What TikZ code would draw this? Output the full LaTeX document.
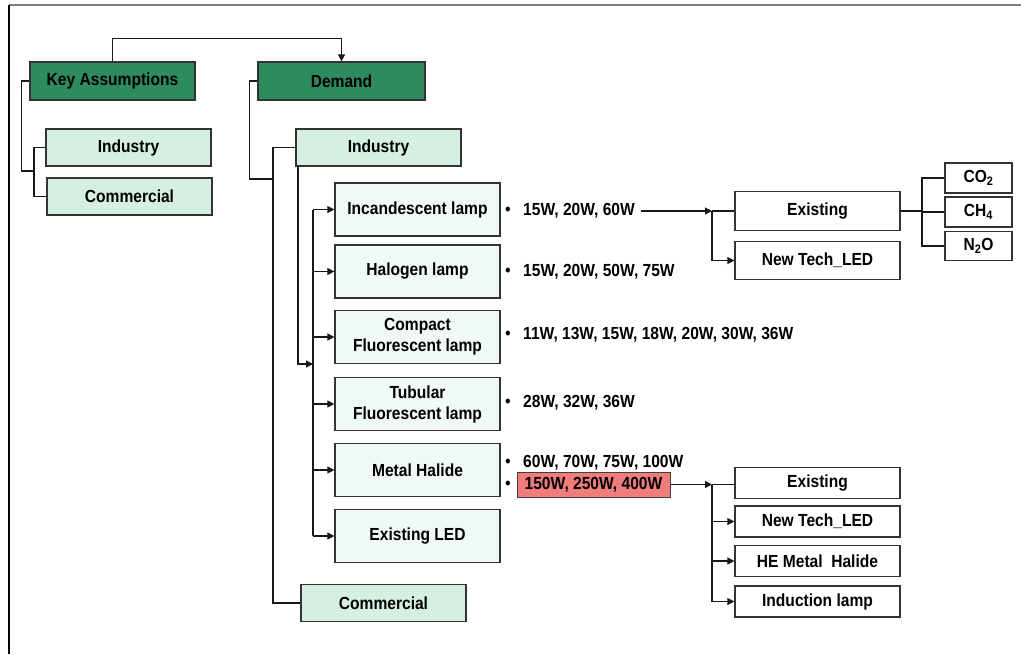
\documentclass[tikz,border=0pt]{standalone}
\usepackage{fontspec}
\setmainfont{Liberation Sans}[FakeStretch=0.89]
\usetikzlibrary{arrows.meta}

\definecolor{keygreen}{RGB}{46,139,94}
\definecolor{mint}{RGB}{213,240,227}
\definecolor{pale}{RGB}{240,249,245}
\definecolor{hot}{RGB}{240,124,124}

\tikzset{
  every node/.style={font=\fontsize{17.5}{21}\selectfont\bfseries, inner sep=0pt},
  box/.style={draw=black!80, line width=1.2pt, minimum width=165pt, align=center},
  head/.style={box, fill=keygreen, minimum height=38pt},
  sub/.style={box, fill=mint, minimum height=37pt},
  lamp/.style={box, fill=pale, minimum height=53pt},
  tech/.style={box, fill=white, minimum height=31pt},
  gas/.style={box, fill=white, minimum width=67pt, minimum height=30pt},
  watt/.style={anchor=west},
  dot/.style={font=\fontsize{18}{18}\selectfont},
  link/.style={black!90, line width=1.1pt},
  arr/.style={link, -{Triangle[length=7pt,width=7pt]}}
}

\begin{document}
\begin{tikzpicture}[x=1pt, y=-1pt]
  \useasboundingbox (0,0) rectangle (1021,654);
  % frame
  \draw[gray, line width=1.5pt] (9,5) -- (1021,5);
  \draw[black, line width=1.5pt] (9,5) -- (9,654);

  % top level
  \node[head] (ka) at (112.5,81) {Key Assumptions};
  \node[head, minimum width=167pt] (dem) at (341.5,81) {Demand};
  \node[sub] (kaind) at (128.5,147.5) {Industry};
  \node[sub] (kacom) at (129.5,196.5) {Commercial};
  \node[sub] (dind) at (378.5,147.5) {Industry};
  \node[sub] (dcom) at (383.5,603) {Commercial};

  % lamp types
  \node[lamp] (inc) at (417.5,209.5) {Incandescent lamp};
  \node[lamp] (hal) at (417.5,271.5) {Halogen lamp};
  \node[lamp] (cfl) at (417.5,337) {Compact\\Fluorescent lamp};
  \node[lamp] (tfl) at (417.5,404) {Tubular\\Fluorescent lamp};
  \node[lamp] (mh) at (417.5,470) {Metal Halide};
  \node[lamp] (led) at (417.5,536) {Existing LED};

  % wattages
  \foreach \y in {211,272,335,403,463,485}
    \node[dot] (dot\y) at (508,\y) {•};
  \node[watt] (w1) at (523,211) {15W, 20W, 60W};
  \node[watt] (w2) at (523,272) {15W, 20W, 50W, 75W};
  \node[watt] (w3) at (523,335) {11W, 13W, 15W, 18W, 20W, 30W, 36W};
  \node[watt] (w4) at (523,403) {28W, 32W, 36W};
  \node[watt] (w5) at (523,463) {60W, 70W, 75W, 100W};
  \node[draw=black!75, line width=1pt, fill=hot, minimum width=153pt, minimum height=25pt] (big) at (593.5,484.5) {150W, 250W, 400W};

  % options
  \node[tech, minimum height=39pt] (ex1) at (817.5,211) {Existing};
  \node[tech, minimum height=38pt] (nt1) at (817.5,260.5) {New Tech\_LED};
  \node[gas] (co2) at (978.5,178) {CO\textsubscript{2}};
  \node[gas] (ch4) at (978.5,212) {CH\textsubscript{4}};
  \node[gas, minimum height=29pt] (n2o) at (978.5,246) {N\textsubscript{2}O};
  \node[tech] (ex2) at (817.5,483) {Existing};
  \node[tech] (nt2) at (817.5,521.5) {New Tech\_LED};
  \node[tech] (he) at (817.5,561) {HE Metal\ \ Halide};
  \node[tech] (ind) at (817.5,601.5) {Induction lamp};

  % junction points
  \coordinate (kaj) at (34,171);
  \coordinate (demj) at (273,179);
  \coordinate (indd) at (298,364);
  \coordinate (bus) at (313,364);
  \coordinate (tbus) at (712,211);
  \coordinate (gasj) at (922,211);
  \coordinate (lbus) at (712,484.5);

  % connectors
  \draw[arr] (ka.north) -- ++(0,-23) -| (dem.north);
  \draw[link] (ka.west) -- ++(-8,0) |- (kaj);
  \draw[link] (kaind.west) -| (kaj);
  \draw[link] (kacom.west) -| (kaj);
  \draw[link] (dem.west) -- ++(-8,0) |- (demj);
  \draw[link] (dind.west) -| (demj);
  \draw[link] (dcom.west) -| (demj);
  \draw[arr] (dind.south -| indd) -- (indd) -- (bus);
  \draw[link] (bus |- inc.west) -- (bus |- led.west);
  \foreach \l in {inc,hal,cfl,tfl,mh,led}
    \draw[arr] (bus |- \l.west) -- (\l.west);

  \draw[arr] ([xshift=6pt]w1.east) -- (tbus);
  \draw[link] (tbus) -- (ex1.west);
  \draw[arr] (tbus) |- (nt1.west);
  \draw[link] (ex1.east) -- (gasj);
  \draw[link] (co2.west) -| (gasj);
  \draw[link] (ch4.west) -- (ch4.west -| gasj);
  \draw[link] (n2o.west) -| (gasj);

  \draw[arr] (big.east) -- (lbus);
  \draw[link] (lbus) -- (lbus -| ex2.west);
  \foreach \t in {nt2,he,ind}
    \draw[arr] (lbus) |- (\t.west);
\end{tikzpicture}
\end{document}
